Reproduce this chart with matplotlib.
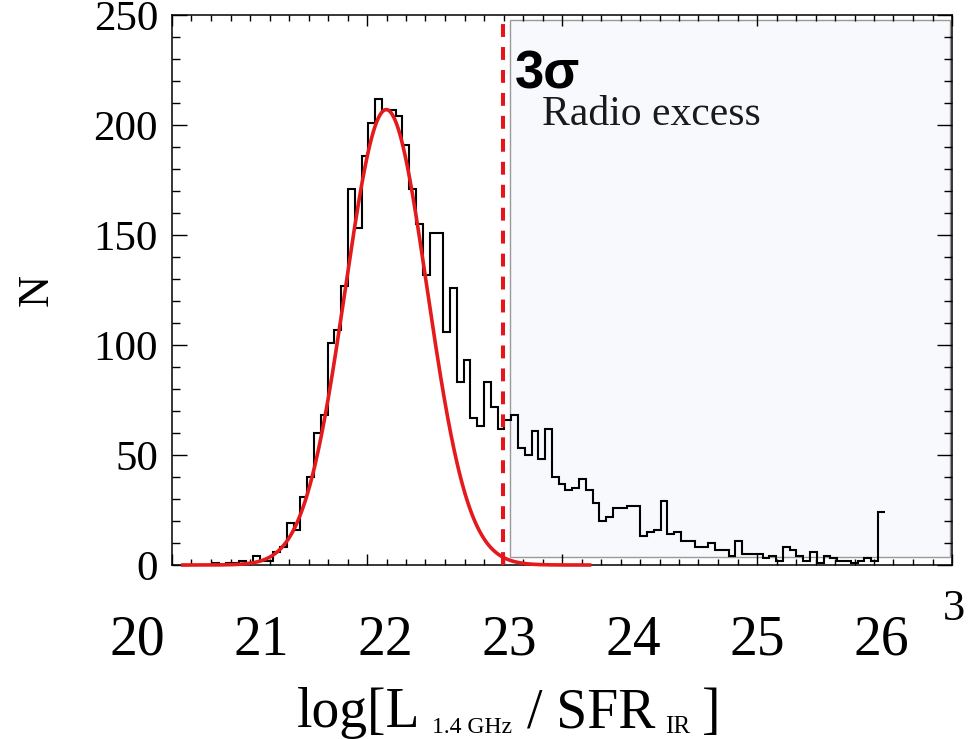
import numpy as np
import matplotlib
matplotlib.use("Agg")
import matplotlib.pyplot as plt
from matplotlib.patches import Rectangle
from matplotlib.ticker import MultipleLocator
from matplotlib.transforms import blended_transform_factory

plt.rcParams['font.family'] = ['Liberation Serif', 'DejaVu Serif']

# histogram counts, equal width bins
bin_start = 20.606
bin_width = 0.0548
counts = [1, 0, 1, 1, 2, 1, 4, 2, 2, 6, 8, 19, 16, 31, 40, 60, 68,
          101, 107, 127, 171, 153, 186, 201, 212, 207, 207, 204, 191, 171, 155, 132, 151, 151, 106, 126,
          83, 93, 67, 63, 83, 72, 62, 66,
          68, 53, 50, 61, 48, 62, 40, 37, 34, 35, 39, 34, 28, 20, 22, 26, 26, 27, 27, 13, 15, 16,
          29, 14, 15, 11, 11, 8, 8, 10, 7, 7, 4, 11, 5, 5, 5, 3, 4, 2, 8, 7, 4, 2, 6, 1, 4, 3,
          2, 2, 1, 2, 3, 2, 24]

# gaussian fit of the main peak
fit_amp = 207.0
fit_mu = 22.01
fit_sigma = 0.33
fit_range = (20.37, 23.65)

cut_3sigma = 22.95
excess_x = (23.01, 26.556)
excess_y = (3.6, 247.7)

xlim = (20.282, 26.573)
ylim = (0, 250)
xlabels = [20, 21, 22, 23, 24, 25, 26]

W, H = 976, 739
fig = plt.figure(figsize=(W / 100, H / 100), dpi=100)
ax = fig.add_axes([172 / W, 1 - 565 / H, 780 / W, 550 / H])

edges = bin_start + bin_width * np.arange(len(counts) + 1)

ax.add_patch(Rectangle((excess_x[0], excess_y[0]), excess_x[1] - excess_x[0], excess_y[1] - excess_y[0],
                       facecolor='#f7f9fc', edgecolor='#9a9a9a', lw=1.0, zorder=1))
ax.stairs(counts, edges, baseline=None, color='black', lw=1.5, zorder=2)

xf = np.linspace(fit_range[0], fit_range[1], 500)
yf = fit_amp * np.exp(-(xf - fit_mu) ** 2 / (2 * fit_sigma ** 2))
ax.plot(xf, yf, color='#e41a1c', lw=2.6, zorder=3, clip_on=False)

ax.axvline(cut_3sigma, color='#e8141c', lw=2.9, dashes=(3.2, 2.5), zorder=4)

ax.set_xlim(*xlim)
ax.set_ylim(*ylim)

ax.set_xticks(np.linspace(xlim[0], xlim[1], 5))
ax.set_xticks(np.linspace(xlim[0], xlim[1], 41), minor=True)
ax.set_yticks(range(0, 251, 50))
ax.yaxis.set_minor_locator(MultipleLocator(10))

ax.tick_params(which='both', direction='in', top=True, right=True, width=1.0)
ax.tick_params(axis='x', which='major', length=8)
ax.tick_params(axis='x', which='minor', length=4)
ax.tick_params(axis='y', which='major', length=11)
ax.tick_params(axis='y', which='minor', length=5.5)
ax.tick_params(axis='x', labelbottom=False)
ax.tick_params(axis='y', labelsize=31, pad=10)
for s in ax.spines.values():
    s.set_linewidth(1.1)

# tick labels of the x axis sit on their own scale
trans = blended_transform_factory(ax.transData, ax.transAxes)
for v in xlabels:
    ax.text(v, -0.1636, str(v), transform=trans, ha='center', va='baseline',
            fontsize=40, clip_on=False)

ax.text(23.048, 216.8, '3σ', fontsize=38, fontweight='bold',
        family=['Liberation Sans', 'DejaVu Sans'], va='baseline', ha='left', zorder=5)
ax.text(23.27, 200.0, 'Radio excess', fontsize=30, color='#1a1a1a', va='baseline', ha='left', zorder=5)

fig.text(37 / W, 1 - 290 / H, 'N', rotation=90, ha='center', va='center', fontsize=32)
fig.text(943 / W, 1 - 620 / H, '3', ha='left', va='baseline', fontsize=32)

# axis title in pieces, subscripts smaller and dropped
pieces = [(297, 727, 'log[L', 40), (432, 733, '1.4 GHz', 17), (527, 727, '/ SFR', 40),
          (665, 733, 'IR', 18), (702, 727, ']', 40)]
for px, py, txt, fs in pieces:
    fig.text(px / W, 1 - py / H, txt, ha='left', va='baseline', fontsize=fs)

fig.savefig('out.png', dpi=100)
